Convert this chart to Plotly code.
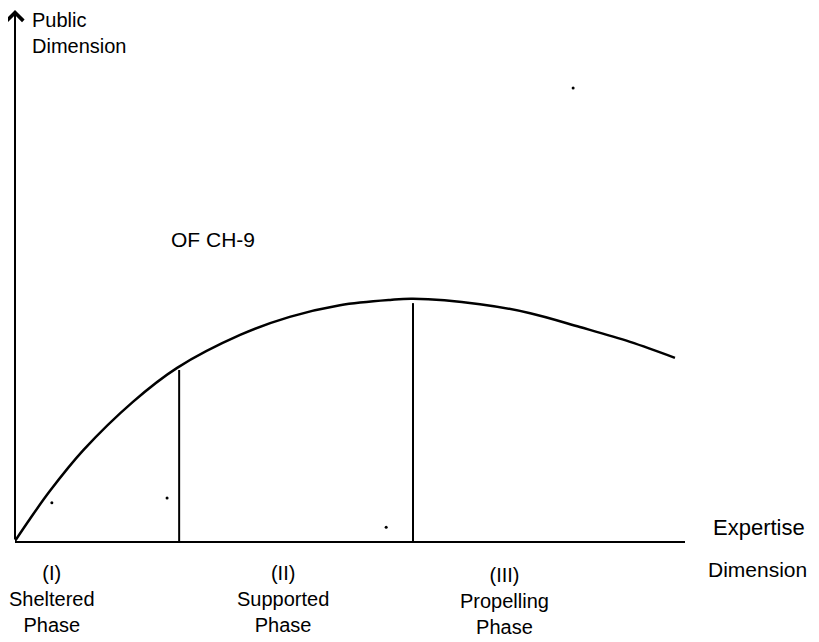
import plotly.graph_objects as go

# Curve: Public dimension vs Expertise dimension (abstract units 0-100)
curve_x = [0, 2.2, 5.2, 10.2, 17.6, 24.2, 33.6, 41, 48.5, 56, 59.4, 69.4, 76.9, 84.3, 91.8, 98.5]
curve_y = [0, 4.1, 9.4, 17.1, 26.2, 32.6, 38.8, 42.2, 44.4, 45.4, 45.6, 44.6, 42.9, 40.3, 37.5, 34.5]

# Phase boundaries (vertical lines)
boundary_x = [24.5, 59.4]
boundary_top = [32.2, 44.8]

# Phase labels (paper positions)
phase_x = [0.0552, 0.400, 0.731]
phase_y = [-0.109, -0.109, -0.113]
phase_numerals = ["(I)", "(II)", "(III)"]
phase_names = ["Sheltered", "Supported", "Propelling"]

# Scan specks
speck_x = [5.5, 22.7, 55.4, 83.3]
speck_y = [7.2, 8.1, 2.6, 85.3]

FONT = "Liberation Sans, Arial, Helvetica, sans-serif"

fig = go.Figure()

fig.add_trace(go.Scatter(
    x=curve_x, y=curve_y, mode="lines",
    line=dict(color="black", width=2.5, shape="spline", smoothing=1.0),
    hoverinfo="skip", showlegend=False))

for bx, bt in zip(boundary_x, boundary_top):
    fig.add_trace(go.Scatter(
        x=[bx, bx], y=[0, bt], mode="lines",
        line=dict(color="black", width=2),
        hoverinfo="skip", showlegend=False))

fig.add_trace(go.Scatter(
    x=speck_x, y=speck_y, mode="markers",
    marker=dict(color="black", size=3),
    hoverinfo="skip", showlegend=False))

annotations = []
# Y axis with arrow
annotations.append(dict(
    x=0, y=100, ax=0, ay=0, xref="x", yref="y", axref="x", ayref="y",
    showarrow=True, arrowhead=4, arrowsize=1.6, arrowwidth=2, arrowcolor="black",
    text=""))

annotations.append(dict(
    x=0.0224, y=0.957, xref="paper", yref="paper", xanchor="left", yanchor="middle",
    align="left", showarrow=False, text="Public<br>Dimension",
    font=dict(family=FONT, size=20, color="black")))

annotations.append(dict(
    x=29.6, y=56.7, xref="x", yref="y", xanchor="center", yanchor="middle",
    showarrow=False, text="OF CH-9",
    font=dict(family=FONT, size=21, color="black")))

annotations.append(dict(
    x=1.110, y=0.026, xref="paper", yref="paper", xanchor="center", yanchor="middle",
    showarrow=False, text="Expertise",
    font=dict(family=FONT, size=22, color="black")))
annotations.append(dict(
    x=1.108, y=-0.053, xref="paper", yref="paper", xanchor="center", yanchor="middle",
    showarrow=False, text="Dimension",
    font=dict(family=FONT, size=21, color="black")))

for px_, py_, num, name in zip(phase_x, phase_y, phase_numerals, phase_names):
    annotations.append(dict(
        x=px_, y=py_, xref="paper", yref="paper", xanchor="center", yanchor="middle",
        showarrow=False, text=f"{num}<br>{name}<br>Phase", align="center",
        font=dict(family=FONT, size=20, color="black")))

fig.update_layout(
    width=811, height=634,
    margin=dict(l=7, r=134, t=2, b=101),
    paper_bgcolor="white", plot_bgcolor="white",
    xaxis=dict(range=[0, 100], showgrid=False, zeroline=False, showticklabels=False,
               ticks="", showline=True, linecolor="black", linewidth=2),
    yaxis=dict(range=[0, 100], showgrid=False, zeroline=False, showticklabels=False,
               ticks="", showline=False),
    annotations=annotations,
    showlegend=False,
)

fig.write_html("out.html")
